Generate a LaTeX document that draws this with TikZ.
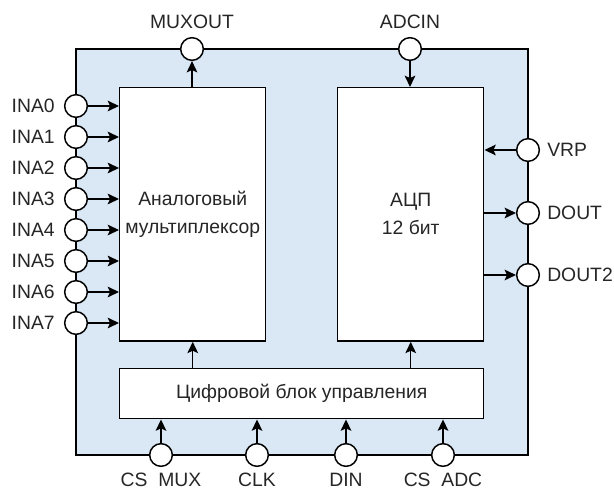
\documentclass[tikz,border=0pt]{standalone}
\usepackage{fontspec}
\setmainfont{Liberation Sans}
\usetikzlibrary{arrows.meta,calc}
\definecolor{chipblue}{RGB}{218,232,245}
\tikzset{
  pin/.style={circle,draw=black,fill=white,line width=1.1pt,minimum size=17pt,inner sep=0pt},
  blockbox/.style={draw=black,fill=white,line width=1.1pt,inner sep=0pt},
  lbl/.style={font=\fontsize{14.5pt}{21pt}\selectfont,text=black!85,inner sep=0pt},
  sig/.style={line width=1.1pt,-{Stealth[length=8.5pt,width=8pt,inset=1.8pt]}},
}
\begin{document}
\begin{tikzpicture}[x=0.75pt,y=-0.75pt]
\useasboundingbox (0,0) rectangle (614,488);
% outer chip
\draw[fill=chipblue,line width=1.1pt] (76,49) rectangle (528,455);
% blocks
\node[blockbox,minimum width=109.5pt,minimum height=190pt,anchor=north west,
      lbl,align=center] (mux) at (119,87) {Аналоговый\\мультиплексор};
\node[blockbox,minimum width=109.5pt,minimum height=190pt,anchor=north west,
      lbl,align=center] (adc) at (337,87) {АЦП\\12 бит};
\node[blockbox,minimum width=273pt,minimum height=37.5pt,anchor=north west,
      lbl] (ctl) at (119,368) {Цифровой блок управления};
% left pins
\foreach \i in {0,...,7}{
  \node[pin] (ina\i) at (76,{106+31*\i}) {};
  \node[lbl,anchor=east] at ($(ina\i.west)+(-9,0)$) {INA\i};
  \draw[sig] (ina\i.east) -- (mux.west |- ina\i);
}
% top pins
\node[pin] (muxout) at (192,49) {};
\node[lbl] at (192,22) {MUXOUT};
\draw[sig] (mux.north -| muxout) -- (muxout.south);
\node[pin] (adcin) at (410,49) {};
\node[lbl] at (410,22) {ADCIN};
\draw[sig] (adcin.south) -- (adc.north -| adcin);
% right pins
\node[pin] (vrp) at (528,150) {};
\node[lbl,anchor=west] at (547,150) {VRP};
\draw[sig] (vrp.west) -- (adc.east |- vrp);
\node[pin] (dout) at (528,213) {};
\node[lbl,anchor=west] at (547,213) {DOUT};
\draw[sig] (adc.east |- dout) -- (dout.west);
\node[pin] (dout2) at (528,275) {};
\node[lbl,anchor=west] at (547,275) {DOUT2};
\draw[sig] (adc.east |- dout2) -- (dout2.west);
% control to blocks
\draw[sig] (ctl.north -| mux) -- (mux.south);
\draw[sig] (ctl.north -| adc) -- (adc.south);
% bottom pins
\foreach \n/\x/\t in {csmux/161/CS\_MUX, clk/257/CLK, din/346/DIN, csadc/443/CS\_ADC}{
  \node[pin] (\n) at (\x,455) {};
  \node[lbl,anchor=north] at (\x,473) {\t};
  \draw[sig] (\n.north) -- (ctl.south -| \n);
}
\end{tikzpicture}
\end{document}
